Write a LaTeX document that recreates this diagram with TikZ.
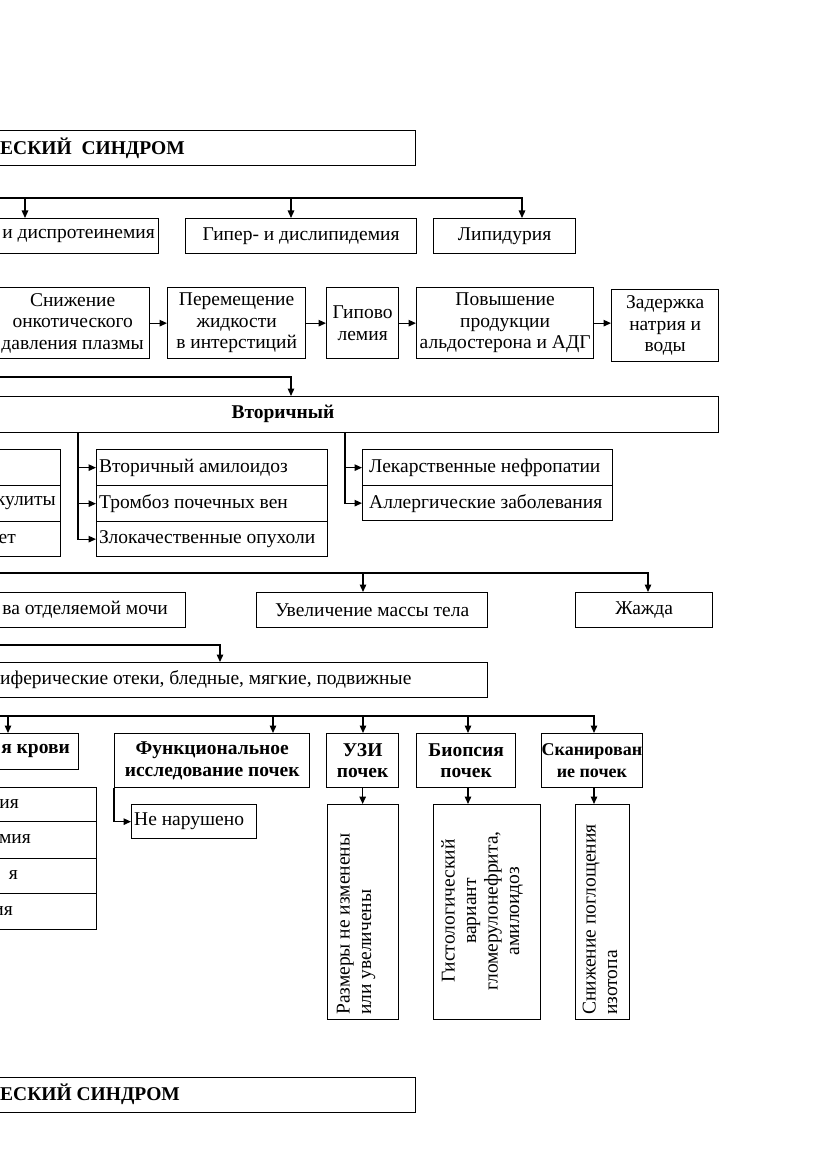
\documentclass[tikz,border=0pt]{standalone}
\usepackage{fontspec}
\setmainfont{Liberation Serif}
\usetikzlibrary{arrows.meta}
\newcommand\mybox[6]{\node[box,minimum width={#4-#2},minimum height={#5-#3},#6] (#1) at (#2,#3)}
\begin{document}
\begin{tikzpicture}[x=1pt,y=-1pt,
  ln/.style={line width=1.3pt},
  arr/.style={ln,-{Triangle[length=7.5pt,width=6.5pt]}},
  txt/.style={font=\fontsize{19.5}{21.5}\selectfont, align=center, inner sep=0pt},
  btxt/.style={font=\fontsize{19.5}{21.5}\selectfont\bfseries, align=center, inner sep=0pt},
  box/.style={draw,line width=1.3pt,inner sep=0pt,anchor=north west,txt},
  bbox/.style={box,btxt},
]
\useasboundingbox (0,0) rectangle (831,1174);
\clip (0,0) rectangle (831,1174);

% top
\mybox{top}{-10}{130}{415}{165}{} {};
\node[btxt,anchor=west] (toptxt) at (0,148) {ЕСКИЙ\ \ СИНДРОМ};

\coordinate (L1) at (-10,198);
\coordinate (b1) at (25,198);
\coordinate (b2) at (291,198);
\coordinate (b3) at (522,198);
\mybox{dispro}{-10}{218}{158}{253}{} {};
\node[txt,anchor=east] (disprot) at (155,235.5) {и диспротеинемия};
\mybox{gip}{185}{218}{416}{253}{} {Гипер- и дислипидемия};
\mybox{lipid}{433}{218}{575}{253}{} {Липидурия};
\draw[arr] (L1) -| (b3 |- lipid.north);
\draw[arr] (b1) -- (b1 |- dispro.north);
\draw[arr] (b2) -- (b2 |- gip.north);

% chain
\mybox{snizh}{-5}{287}{149}{358}{} {Снижение\\онкотического\\давления плазмы};
\mybox{perem}{167}{287}{305}{358}{} {Перемещение\\жидкости\\в интерстиций};
\mybox{gipov}{326}{287}{398}{358}{} {Гипово\\лемия};
\mybox{povysh}{416}{287}{593}{358}{} {Повышение\\продукции\\альдостерона и АДГ};
\mybox{zad}{611}{289}{718}{361}{} {Задержка\\натрия и\\воды};
\draw[arr] (snizh.east) -- (perem.west);
\draw[arr] (perem.east) -- (gipov.west);
\draw[arr] (gipov.east) -- (povysh.west);
\draw[arr] (povysh.east) -- (povysh.east -| zad.west);

% secondary
\coordinate (L2) at (-10,377);
\coordinate (b4) at (291,377);
\mybox{vtor}{-10}{396}{718}{432}{} {};
\node[btxt] (vtort) at (283,414) {Вторичный};
\draw[arr] (L2) -| (b4 |- vtor.north);

\mybox{lc1}{-10}{449}{60}{485}{} {};
\mybox{lc2}{-10}{485}{60}{521}{} {};
\mybox{lc3}{-10}{521}{60}{556}{} {};
\node[txt,anchor=east] (lc2t) at (56,503) {кулиты};
\node[txt,anchor=east] (lc3t) at (16,538.5) {ет};

\mybox{m1}{96}{449}{327}{485}{} {};
\mybox{m2}{96}{485}{327}{521}{} {};
\mybox{m3}{96}{521}{327}{556}{} {};
\node[txt,anchor=west] (m1t) at ([xshift=3pt]m1.west) {Вторичный амилоидоз};
\node[txt,anchor=west] (m2t) at ([xshift=3pt]m2.west) {Тромбоз почечных вен};
\node[txt,anchor=west] (m3t) at ([xshift=3pt]m3.west) {Злокачественные опухоли};

\mybox{r1}{362}{449}{612}{485}{} {};
\mybox{r2}{362}{485}{612}{520}{} {};
\node[txt,anchor=west] (r1t) at ([xshift=7pt]r1.west) {Лекарственные нефропатии};
\node[txt,anchor=west] (r2t) at ([xshift=7pt]r2.west) {Аллергические заболевания};

\coordinate (v1) at (78,432);
\coordinate (v2) at (345,432);
\draw[arr] (v1) |- (m3.west);
\draw[arr] (v1 |- m1.west) -- (m1.west);
\draw[arr] (v1 |- m2.west) -- (m2.west);
\draw[arr] (v2) |- (r2.west);
\draw[arr] (v2 |- r1.west) -- (r1.west);

% symptoms
\coordinate (L3) at (-10,573);
\coordinate (b5) at (363,573);
\coordinate (b6) at (648,573);
\mybox{mocha}{-10}{592}{185}{627}{} {};
\node[txt,anchor=east] (mochat) at (168,609.5) {ва отделяемой мочи};
\mybox{uvel}{256}{592}{487}{627}{} {Увеличение массы тела};
\mybox{zhazh}{575}{592}{712}{627}{} {Жажда};
\draw[arr] (L3) -| (b6 |- zhazh.north);
\draw[arr] (b5) -- (b5 |- uvel.north);

\coordinate (L4) at (-10,645);
\coordinate (b7) at (220,645);
\mybox{otek}{-10}{662}{487}{697}{} {};
\node[txt,anchor=west] (otekt) at (0,679.5) {иферические отеки, бледные, мягкие, подвижные};
\draw[arr] (L4) -| (b7 |- otek.north);

% diagnostics
\coordinate (L5) at (-10,716);
\coordinate (c1) at (8,716);
\coordinate (c2) at (273,716);
\coordinate (c3) at (363,716);
\coordinate (c4) at (468,716);
\coordinate (c5) at (594,716);
\mybox{krov}{-10}{733}{78}{769}{} {};
\node[btxt,anchor=east] (krovt) at (70,751) {я крови};
\mybox{func}{114}{733}{309}{787}{bbox} {Функциональное\\исследование почек};
\mybox{uzi}{326}{733}{398}{787}{bbox} {УЗИ\\почек};
\mybox{biop}{416}{733}{515}{787}{bbox} {Биопсия\\почек};
\mybox{scan}{541}{733}{641}{787}{bbox,font=\fontsize{18}{21.5}\selectfont\bfseries} {Сканирован\\ие почек};
\draw[arr] (L5) -| (c5 |- scan.north);
\draw[arr] (c1) -- (c1 |- krov.north);
\draw[arr] (c2) -- (c2 |- func.north);
\draw[arr] (c3) -- (c3 |- uzi.north);
\draw[arr] (c4) -- (c4 |- biop.north);

\mybox{l1}{-10}{787}{96}{821}{} {};
\mybox{l2}{-10}{821}{96}{858}{} {};
\mybox{l3}{-10}{858}{96}{893}{} {};
\mybox{l4}{-10}{893}{96}{929}{} {};
\node[txt,anchor=east] (l1t) at (19,804) {ия};
\node[txt,anchor=east] (l2t) at (31,839.5) {мия};
\node[txt,anchor=east] (l3t) at (18,875.5) {я};
\node[txt,anchor=east] (l4t) at (13,911) {ия};

\mybox{nenar}{131}{804}{256}{838}{} {};
\node[txt,anchor=west] (nenart) at ([xshift=3pt]nenar.west) {Не нарушено};
\draw[arr] (func.south west) |- (nenar.west);

\mybox{razm}{327}{804}{398}{1019}{} {};
\mybox{histo}{433}{804}{540}{1019}{} {};
\mybox{scan2}{575}{804}{629}{1019}{} {};
\node[txt,rotate=90,anchor=west,align=left] (razmt) at (356,1015) {Размеры не изменены\\или увеличены};
\node[txt,rotate=90,align=center] (histot) at (482,911) {Гистологический\\вариант\\гломерулонефрита,\\амилоидоз};
\node[txt,rotate=90,anchor=west,align=left] (scan2t) at (600,1015) {Снижение поглощения\\изотопа};
\coordinate (d2) at (468,787);
\coordinate (d3) at (594,787);
\draw[arr] (uzi.south) -- (uzi.south |- razm.north);
\draw[arr] (d2) -- (d2 |- histo.north);
\draw[arr] (d3) -- (d3 |- scan2.north);

% bottom
\mybox{bot}{-10}{1077}{415}{1112}{} {};
\node[btxt,anchor=west] (bott) at (0,1094.5) {ЕСКИЙ СИНДРОМ};
\end{tikzpicture}
\end{document}
